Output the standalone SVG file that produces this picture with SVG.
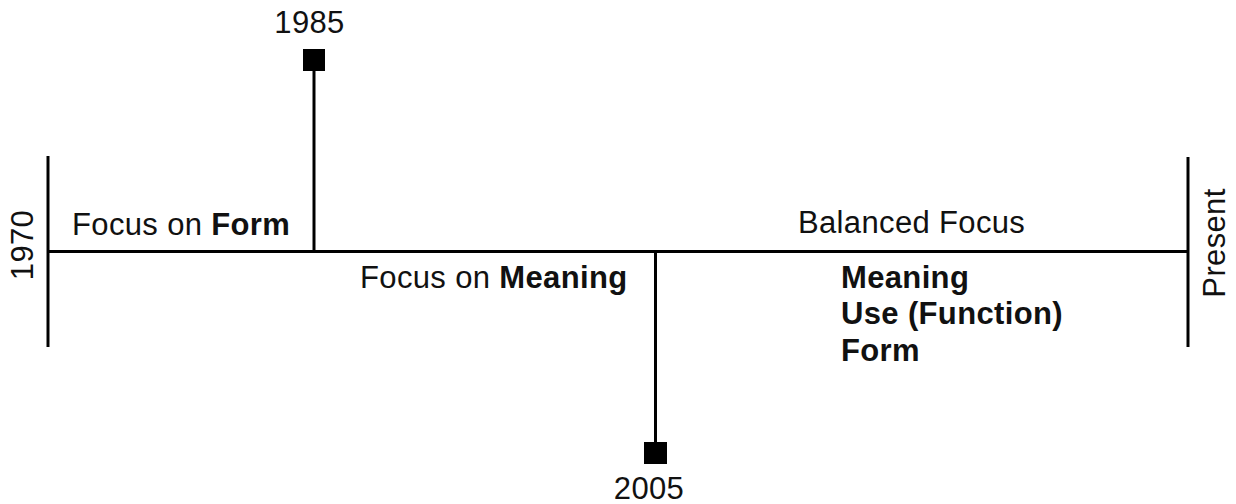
<svg xmlns="http://www.w3.org/2000/svg" width="1236" height="504" viewBox="0 0 1236 504">
  <style>
    .ln { stroke: #000; stroke-width: 3; fill: none; }
    .mk { fill: #000; }
    text { font-family: "Liberation Sans", Arial, sans-serif; font-size: 31px; fill: #111; letter-spacing: 0.35px; }
    .b { font-weight: bold; }
  </style>
  <rect width="1236" height="504" fill="#fff"/>

  <!-- timeline axis and milestone stems -->
  <g id="connectors">
    <line class="ln" x1="47" y1="251.5" x2="1188" y2="251.5"/>
    <line class="ln" x1="48" y1="156" x2="48" y2="347"/>
    <line class="ln" x1="1188" y1="157" x2="1188" y2="347"/>
    <line class="ln" x1="314" y1="60" x2="314" y2="251"/>
    <line class="ln" x1="655.5" y1="251" x2="655.5" y2="453"/>
  </g>

  <g id="start-1970">
    <text transform="translate(33,245) rotate(-90)" text-anchor="middle">1970</text>
  </g>

  <g id="end-present">
    <text transform="translate(1225,243) rotate(-90)" text-anchor="middle">Present</text>
  </g>

  <g id="milestone-1985">
    <rect class="mk" x="303" y="49" width="22" height="22"/>
    <text x="309.5" y="33" text-anchor="middle">1985</text>
  </g>

  <g id="milestone-2005">
    <rect class="mk" x="644" y="442" width="23" height="22"/>
    <text x="649" y="499" text-anchor="middle">2005</text>
  </g>

  <g id="phase-form">
    <text x="72" y="235">Focus on <tspan class="b">Form</tspan></text>
  </g>

  <g id="phase-meaning">
    <text x="360" y="288">Focus on <tspan class="b">Meaning</tspan></text>
  </g>

  <g id="phase-balanced">
    <text x="798" y="233">Balanced Focus</text>
    <text class="b" x="841" y="288">Meaning</text>
    <text class="b" x="841" y="324">Use (Function)</text>
    <text class="b" x="841" y="361">Form</text>
  </g>
</svg>
